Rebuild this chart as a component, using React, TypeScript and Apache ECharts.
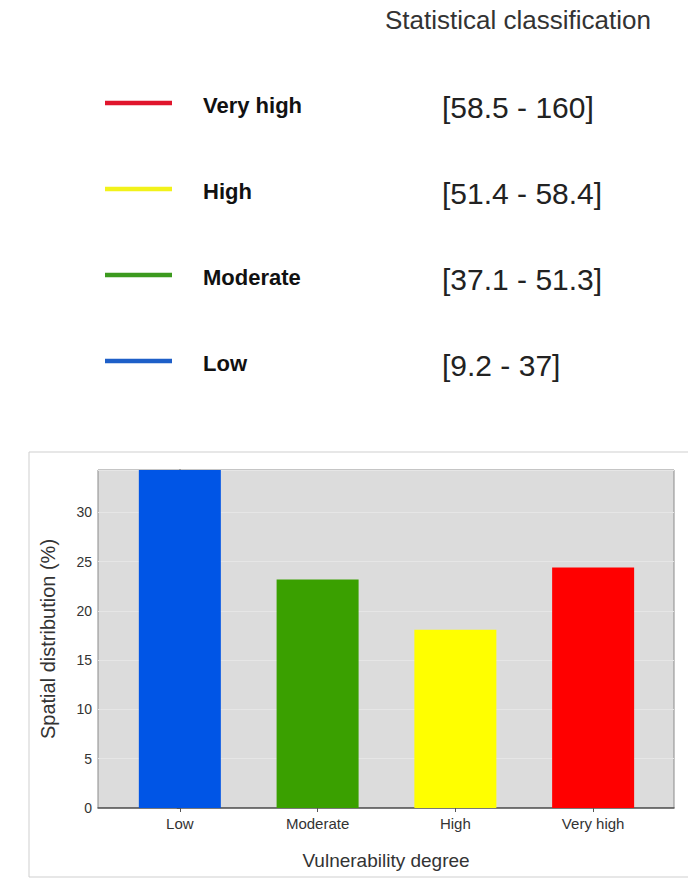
import React, { useEffect, useRef } from "react";
import * as echarts from "echarts";

const categories = ["Low", "Moderate", "High", "Very high"];
const spatialDistribution = [34.3, 23.2, 18.1, 24.4];
const barColors = ["#0055e6", "#3aa000", "#ffff00", "#ff0000"];
const yTicks = [0, 5, 10, 15, 20, 25, 30];

const legendLabels = ["Very high", "High", "Moderate", "Low"];
const legendRanges = ["[58.5 - 160]", "[51.4 - 58.4]", "[37.1 - 51.3]", "[9.2 - 37]"];
const legendColors = ["#e0152c", "#f2f21a", "#3c9a1e", "#1e5fc8"];
const legendTitle = "Statistical classification";

const FONT = "'Liberation Sans', Arial, Helvetica, sans-serif";

export default function App() {
  const ref = useRef<HTMLDivElement>(null);
  useEffect(() => {
    if (!ref.current) return;
    const chart = echarts.init(ref.current, null, { renderer: "svg" });
    const rowY = [103, 189, 275, 361];
    const graphic: any[] = [
      {
        type: "rect",
        z: -10,
        shape: { x: 29, y: 452, width: 700, height: 425 },
        style: { fill: "none", stroke: "#cfcfcf", lineWidth: 1 },
      },
      {
        type: "text",
        x: 385,
        y: 20,
        style: {
          text: legendTitle,
          fontFamily: FONT,
          fontSize: 26,
          fill: "#333",
          verticalAlign: "middle",
        },
      },
    ];
    legendLabels.forEach((lab, i) => {
      graphic.push({
        type: "line",
        shape: { x1: 105, y1: rowY[i], x2: 172, y2: rowY[i] },
        style: { stroke: legendColors[i], lineWidth: 4.5 },
      });
      graphic.push({
        type: "text",
        x: 203,
        y: rowY[i] + 2,
        style: {
          text: lab,
          fontFamily: FONT,
          fontSize: 22,
          fontWeight: "bold",
          fill: "#111",
          verticalAlign: "middle",
        },
      });
      graphic.push({
        type: "text",
        x: 442,
        y: rowY[i] + 4,
        style: {
          text: legendRanges[i],
          fontFamily: FONT,
          fontSize: 30,
          fill: "#222",
          verticalAlign: "middle",
        },
      });
    });

    const catIdx = categories.map((_, i) => i);
    chart.setOption({
      animation: false,
      backgroundColor: "#ffffff",
      textStyle: { fontFamily: FONT },
      grid: {
        left: 98,
        right: 688 - 674,
        top: 470,
        bottom: 882 - 808,
        show: true,
        backgroundColor: "#dcdcdc",
        borderColor: "#8a8a8a",
        borderWidth: 1,
      },
      graphic,
      xAxis: {
        type: "value",
        min: -0.594,
        max: 3.587,
        name: "Vulnerability degree",
        nameLocation: "middle",
        nameGap: 43,
        nameTextStyle: { fontSize: 19, color: "#333", fontFamily: FONT },
        axisLine: { show: true, lineStyle: { color: "#555", width: 1.5 } },
        axisTick: { show: true, customValues: catIdx, length: 4, lineStyle: { color: "#555" } },
        axisLabel: {
          customValues: catIdx,
          formatter: (v: number) => categories[Math.round(v)] ?? "",
          fontSize: 15,
          color: "#333",
          margin: 8,
        },
        splitLine: { show: false },
      },
      yAxis: {
        type: "value",
        min: 0,
        max: 34.3,
        interval: 5,
        name: "Spatial distribution (%)",
        nameLocation: "middle",
        nameGap: 40,
        nameTextStyle: { fontSize: 20, color: "#333", fontFamily: FONT },
        axisLine: { show: true, lineStyle: { color: "#555", width: 1.5 } },
        axisTick: { show: true, length: 3, lineStyle: { color: "#555" } },
        axisLabel: {
          fontSize: 14,
          color: "#333",
          margin: 6,
          showMaxLabel: false,
          formatter: (v: number) => (yTicks.includes(v) ? String(v) : ""),
        },
        splitLine: { show: true, lineStyle: { color: "#e6e6e6", width: 1 } },
      },
      series: [
        {
          type: "bar",
          barWidth: 82,
          data: spatialDistribution.map((v, i) => ({
            value: [i, v],
            itemStyle: { color: barColors[i] },
          })),
        },
      ],
    });
    return () => chart.dispose();
  }, []);
  return (
    <div
      ref={ref}
      style={{ position: "fixed", left: 0, top: 0, width: 688, height: 882 }}
    />
  );
}
